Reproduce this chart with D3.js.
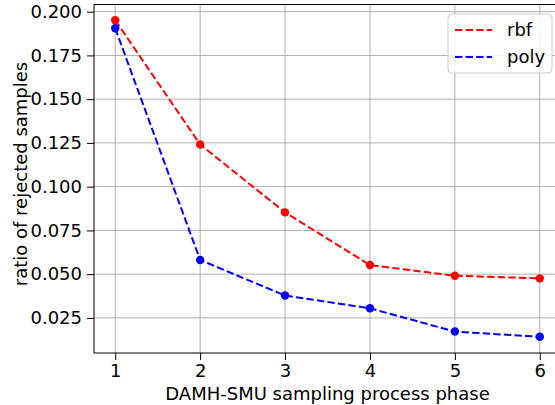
<!DOCTYPE html>
<html lang="en">
<head>
    <meta charset="UTF-8">
    <title>ratio of rejected samples</title>
    <script src="https://d3js.org/d3.v7.min.js"></script>
    <style>
        body { margin: 0; background: white; }
        svg { display: block; font-family: "DejaVu Sans", sans-serif; }
        .tick text { font-size: 18px; fill: black; }
        .axis-label { font-size: 18px; fill: black; }
        .grid line { stroke: #b0b0b0; stroke-width: 1; }
    </style>
</head>
<body>
    <div id="chart"></div>
    <script>
        // data
        const phases = [1, 2, 3, 4, 5, 6];
        const rbf = [0.1951, 0.1241, 0.0853, 0.0552, 0.0491, 0.0476];
        const poly = [0.1905, 0.0581, 0.0378, 0.0305, 0.0172, 0.0142];
        const yTicks = [0.025, 0.050, 0.075, 0.100, 0.125, 0.150, 0.175, 0.200];
        const seriesNames = ["rbf", "poly"];
        const seriesColors = ["#ff0000", "#0000ff"];

        const width = 555, height = 405;
        const mLeft = 94, mRight = 561, mTop = 4.5, mBottom = 353;

        const svg = d3.select("#chart").append("svg")
            .attr("width", width)
            .attr("height", height);

        const x = d3.scaleLinear().domain([0.75, 6.25]).range([mLeft, mRight]);
        const y = d3.scaleLinear().domain([0.00495, 0.2041]).range([mBottom, mTop]);

        // grid
        svg.append("g").attr("class", "grid")
            .selectAll("line").data(phases).enter().append("line")
            .attr("x1", d => x(d)).attr("x2", d => x(d))
            .attr("y1", mTop).attr("y2", mBottom);
        svg.append("g").attr("class", "grid")
            .selectAll("line").data(yTicks).enter().append("line")
            .attr("x1", mLeft).attr("x2", mRight)
            .attr("y1", d => y(d)).attr("y2", d => y(d));

        // axes
        const xAxis = svg.append("g")
            .attr("transform", `translate(0, ${mBottom})`)
            .call(d3.axisBottom(x).tickValues(phases).tickFormat(d3.format("d")).tickSize(7).tickPadding(4));
        const yAxis = svg.append("g")
            .attr("transform", `translate(${mLeft}, 0)`)
            .call(d3.axisLeft(y).tickValues(yTicks).tickFormat(d3.format(".3f")).tickSize(7).tickPadding(5));
        [xAxis, yAxis].forEach(a => {
            a.select(".domain").remove();
            a.selectAll(".tick line").attr("stroke", "black").attr("stroke-width", 1);
            a.attr("font-family", null).attr("font-size", null);
        });

        // spines (right spine falls outside the window)
        svg.append("rect")
            .attr("x", mLeft).attr("y", mTop)
            .attr("width", mRight - mLeft).attr("height", mBottom - mTop)
            .attr("fill", "none").attr("stroke", "black").attr("stroke-width", 1);

        // lines + markers
        const line = d3.line().x((d, i) => x(phases[i])).y(d => y(d));
        [rbf, poly].forEach((vals, k) => {
            svg.append("path")
                .datum(vals)
                .attr("d", line)
                .attr("fill", "none")
                .attr("stroke", seriesColors[k])
                .attr("stroke-width", 2)
                .attr("stroke-dasharray", "7.4,3.2");
            svg.append("g").selectAll("circle")
                .data(vals).enter().append("circle")
                .attr("cx", (d, i) => x(phases[i]))
                .attr("cy", d => y(d))
                .attr("r", 4.2)
                .attr("fill", seriesColors[k]);
        });

        // axis labels
        svg.append("text")
            .attr("class", "axis-label")
            .attr("x", (mLeft + mRight) / 2)
            .attr("y", 400)
            .attr("text-anchor", "middle")
            .text("DAMH-SMU sampling process phase");
        svg.append("text")
            .attr("class", "axis-label")
            .attr("transform", "translate(26.5, 174) rotate(-90)")
            .attr("text-anchor", "middle")
            .text("ratio of rejected samples");

        // legend
        const lg = svg.append("g").attr("transform", "translate(448, 14)");
        lg.append("rect")
            .attr("width", 104).attr("height", 59)
            .attr("rx", 4)
            .attr("fill", "white").attr("fill-opacity", 0.8)
            .attr("stroke", "#cccccc").attr("stroke-width", 1);
        seriesNames.forEach((name, k) => {
            const cy = 16 + k * 27;
            lg.append("line")
                .attr("x1", 7).attr("x2", 44)
                .attr("y1", cy).attr("y2", cy)
                .attr("stroke", seriesColors[k])
                .attr("stroke-width", 2)
                .attr("stroke-dasharray", "7.4,3.2");
            lg.append("text")
                .attr("class", "axis-label")
                .attr("x", 59).attr("y", cy + 6)
                .text(name);
        });
    </script>
</body>
</html>
